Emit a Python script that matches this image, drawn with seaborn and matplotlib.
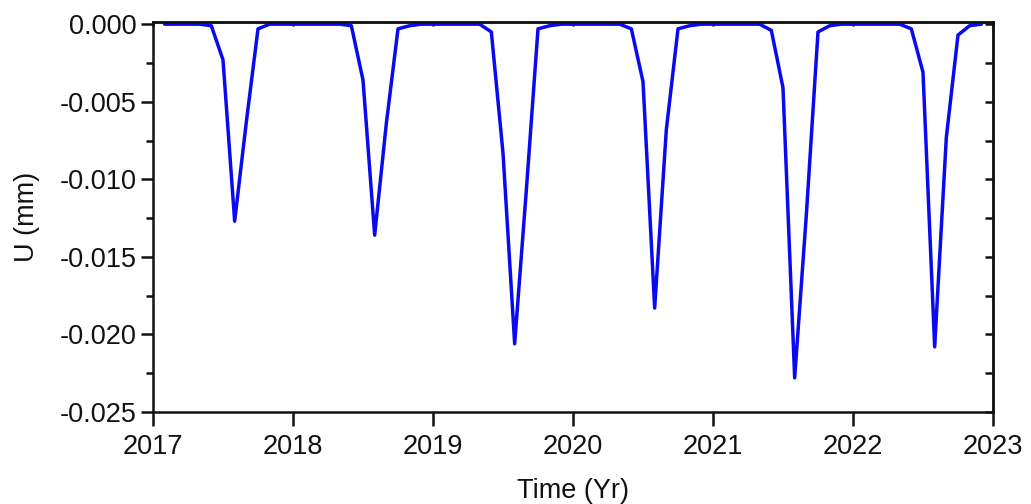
import numpy as np
import pandas as pd
import matplotlib
matplotlib.use("Agg")
import matplotlib.pyplot as plt
import seaborn as sns
from matplotlib.ticker import MultipleLocator, FuncFormatter

# ---- data (monthly samples, month index counted from Jan 2017) ----
month_index = list(range(1, 72))
u_mm = [
    # 2017 (Feb..Jan18)
    0.0, 0.0, 0.0, 0.0, -0.0001, -0.0023, -0.0127, -0.0063, -0.0003, 0.0, 0.0, 0.0,
    # 2018
    0.0, 0.0, 0.0, 0.0, -0.0001, -0.0036, -0.0136, -0.0064, -0.0003, -0.0001, 0.0, 0.0,
    # 2019
    0.0, 0.0, 0.0, 0.0, -0.0005, -0.0083, -0.0206, -0.0107, -0.0003, -0.0001, 0.0, 0.0,
    # 2020
    0.0, 0.0, 0.0, 0.0, -0.0003, -0.0037, -0.0183, -0.0068, -0.0003, -0.0001, 0.0, 0.0,
    # 2021
    0.0, 0.0, 0.0, 0.0, -0.0004, -0.0041, -0.0228, -0.0123, -0.0005, -0.0001, 0.0, 0.0,
    # 2022 (..Dec)
    0.0, 0.0, 0.0, 0.0, -0.0003, -0.0031, -0.0208, -0.0073, -0.0007, -0.0001, 0.0,
]
time_yr = [2017 + m / 12 for m in month_index]
x_ticks = [2017, 2018, 2019, 2020, 2021, 2022, 2023]
x_label = "Time (Yr)"
y_label = "U (mm)"

df = pd.DataFrame({"t": time_yr, "u": u_mm})

sns.set_style("ticks")
plt.rcParams["font.family"] = ["Liberation Sans", "DejaVu Sans"]
plt.rcParams["axes.unicode_minus"] = False

W, H = 1031, 504
fig = plt.figure(figsize=(W / 100, H / 100), dpi=100)
L, R, T, B = 153, 993, 22, 412
ax = fig.add_axes([L / W, (H - B) / H, (R - L) / W, (B - T) / H])

sns.lineplot(data=df, x="t", y="u", ax=ax, color="#0a0aef", linewidth=2.5)

ax.set_xlim(2017, 2023)
ax.set_ylim(-0.025, 0.00014)
ax.set_xticks(x_ticks)
ax.set_xticklabels([str(v) for v in x_ticks])
ax.yaxis.set_major_locator(MultipleLocator(0.005))
ax.yaxis.set_minor_locator(MultipleLocator(0.0025))


def fmt(v, pos):
    if abs(v) < 1e-9:
        return "0.000"
    return f"{v:.3f}"


ax.yaxis.set_major_formatter(FuncFormatter(fmt))

lw = 1.8
for s in ax.spines.values():
    s.set_linewidth(lw)
    s.set_color("#111111")
    s.set_visible(True)

fs = 19.5
ax.tick_params(axis="x", which="major", direction="out", length=10, width=lw,
               labelsize=fs, pad=6, colors="#111111", top=False)
ax.tick_params(axis="y", which="major", direction="out", length=9, width=lw,
               labelsize=fs, pad=3, colors="#111111", right=False)
ax.tick_params(axis="y", which="minor", direction="out", length=5, width=lw,
               colors="#111111", right=False)

# inward ticks on right and top spines
sec_r = ax.secondary_yaxis("right")
sec_r.yaxis.set_major_locator(MultipleLocator(0.0025))
sec_r.tick_params(direction="in", length=6, width=lw, labelright=False, colors="#111111")
sec_r.spines["right"].set_linewidth(lw)
sec_t = ax.secondary_xaxis("top")
sec_t.set_xticks(x_ticks)
sec_t.tick_params(direction="in", length=3, width=lw, labeltop=False, colors="#111111")
sec_t.spines["top"].set_linewidth(lw)

ax.set_xlabel(x_label, fontsize=fs, color="#111111")
ax.set_ylabel(y_label, fontsize=fs, color="#111111")
ax.xaxis.set_label_coords(0.5, -0.17)
ax.yaxis.set_label_coords(-0.135, 0.5)

fig.savefig("out.png", dpi=100, facecolor="white")
